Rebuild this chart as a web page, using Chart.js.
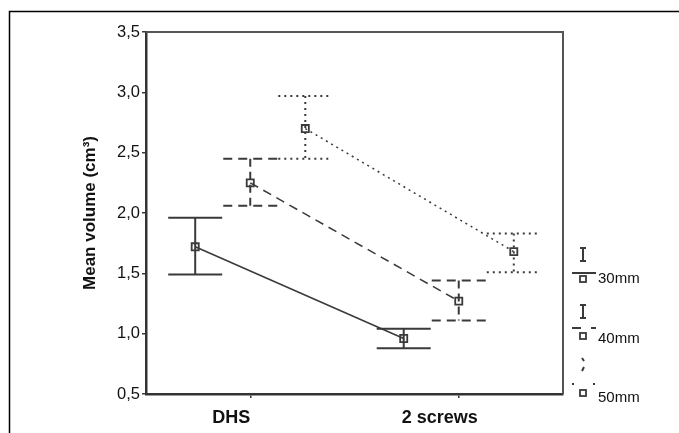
<!DOCTYPE html>
<html>
<head>
<meta charset="utf-8">
<script src="https://cdn.jsdelivr.net/npm/chart.js@4/dist/chart.umd.min.js"></script>
<style>
html,body{margin:0;padding:0;background:#fff;}
#wrap{width:679px;height:433px;position:relative;}
</style>
</head>
<body>
<div id="wrap"><canvas id="c" width="679" height="433"></canvas></div>
<script>
// ---- data ----
const categories = ['DHS', '2 screws'];
const seriesNames = ['30mm', '40mm', '50mm'];
const mean30 = [1.72, 0.96];
const lo30   = [1.49, 0.88];
const hi30   = [1.96, 1.04];
const mean40 = [2.25, 1.27];
const lo40   = [2.06, 1.11];
const hi40   = [2.45, 1.44];
const mean50 = [2.70, 1.68];
const lo50   = [2.45, 1.51];
const hi50   = [2.97, 1.83];
const yTicks = [0.5, 1.0, 1.5, 2.0, 2.5, 3.0, 3.5];
const yTitle = 'Mean volume (cm³)';

// ---- styles ----
const groupOffsets = [-0.264, 0, 0.264];
const dashes = [[], [9, 6], [2, 4]];
const ink = '#3a3a3a';
const means = [mean30, mean40, mean50];
const los = [lo30, lo40, lo50];
const his = [hi30, hi40, hi50];

const datasets = seriesNames.map((name, s) => ({
  label: name,
  data: categories.map((c, i) => ({x: i + groupOffsets[s], y: means[s][i]})),
  borderColor: ink,
  borderWidth: 1.5,
  borderDash: dashes[s],
  pointStyle: 'rect',
  pointRadius: 5,
  pointBorderWidth: 1.8,
  pointBorderColor: ink,
  pointBackgroundColor: 'rgba(255,255,255,0)',
  tension: 0,
  fill: false
}));

const errorBars = {
  id: 'errorBars',
  beforeDatasetsDraw(chart) {
    const {ctx, scales: {x, y}} = chart;
    ctx.save();
    ctx.strokeStyle = ink;
    seriesNames.forEach((name, s) => {
      categories.forEach((c, i) => {
        const px = x.getPixelForValue(i + groupOffsets[s]);
        const pLo = y.getPixelForValue(los[s][i]);
        const pHi = y.getPixelForValue(his[s][i]);
        const hw = 27;
        ctx.setLineDash(dashes[s]);
        ctx.lineWidth = 2;
        ctx.beginPath();
        ctx.moveTo(px - hw, pHi); ctx.lineTo(px + hw, pHi);
        ctx.moveTo(px - hw, pLo); ctx.lineTo(px + hw, pLo);
        ctx.stroke();
        ctx.beginPath();
        ctx.setLineDash(s === 1 ? [8, 5] : dashes[s]);
        ctx.moveTo(px, pHi); ctx.lineTo(px, pLo);
        ctx.stroke();
      });
    });
    ctx.restore();
  }
};

const frame = {
  id: 'frame',
  afterDraw(chart) {
    const {ctx, chartArea: a} = chart;
    ctx.save();
    // outer border
    ctx.strokeStyle = '#000';
    ctx.lineWidth = 1.5;
    ctx.beginPath();
    ctx.moveTo(9.5, 440); ctx.lineTo(9.5, 11.5); ctx.lineTo(679, 11.5);
    ctx.stroke();
    // plot box top/right
    ctx.strokeStyle = '#555';
    ctx.lineWidth = 2;
    ctx.beginPath();
    ctx.moveTo(a.left, a.top); ctx.lineTo(a.right, a.top); ctx.lineTo(a.right, a.bottom);
    ctx.stroke();
    // legend
    const lx = 583;
    const baseY = [279, 336, 393];
    const textDy = [4, 7, 9];
    seriesNames.forEach((name, s) => {
      const cy = baseY[s];
      ctx.strokeStyle = ink;
      ctx.lineWidth = 2;
      ctx.setLineDash([]);
      // error-bar glyph
      ctx.beginPath();
      if (s === 2) {
        ctx.moveTo(lx - 1, cy - 35); ctx.lineTo(lx + 1, cy - 32);
        ctx.moveTo(lx + 1, cy - 26); ctx.lineTo(lx - 1, cy - 22);
      } else {
        ctx.moveTo(lx - 3, cy - 31); ctx.lineTo(lx + 3, cy - 31);
        ctx.moveTo(lx, cy - 31); ctx.lineTo(lx, cy - 18);
        ctx.moveTo(lx - 3, cy - 18); ctx.lineTo(lx + 3, cy - 18);
      }
      ctx.stroke();
      // line sample
      ctx.beginPath();
      if (s === 0) {
        ctx.moveTo(572, cy - 6); ctx.lineTo(596, cy - 6);
      } else if (s === 1) {
        ctx.moveTo(572, cy - 8); ctx.lineTo(581, cy - 8);
        ctx.moveTo(591, cy - 8); ctx.lineTo(596, cy - 8);
      } else {
        ctx.moveTo(572, cy - 9); ctx.lineTo(574, cy - 9);
        ctx.moveTo(593, cy - 9); ctx.lineTo(595, cy - 9);
      }
      ctx.stroke();
      // square
      ctx.lineWidth = 1.8;
      ctx.strokeRect(lx - 3, cy - 3, 6, 6);
      // label
      ctx.fillStyle = '#111';
      ctx.font = '15px "Liberation Sans", Arial, sans-serif';
      ctx.textAlign = 'left';
      ctx.textBaseline = 'alphabetic';
      ctx.fillText(name, 598, cy + textDy[s]);
    });
    ctx.restore();
  }
};

new Chart(document.getElementById('c'), {
  type: 'line',
  data: {datasets},
  options: {
    responsive: false,
    animation: false,
    events: [],
    layout: {padding: {left: 80, top: 32, right: 116, bottom: 0}},
    plugins: {legend: {display: false}, tooltip: {enabled: false}},
    scales: {
      x: {
        type: 'linear',
        min: -0.5, max: 1.5,
        afterBuildTicks(scale) { scale.ticks = categories.map((c, i) => ({value: i})); },
        afterFit(scale) { scale.height = 39; },
        ticks: {
          callback: (v) => categories[Math.round(v)],
          font: {family: '"Liberation Sans", Arial, sans-serif', size: 18, weight: 'bold'},
          color: '#111',
          padding: 9,
          labelOffset: -19,
          maxRotation: 0,
          autoSkip: false
        },
        grid: {drawOnChartArea: false, drawTicks: true, tickLength: 4, color: ink, lineWidth: 1.5},
        border: {color: '#333', width: 2.5}
      },
      y: {
        type: 'linear',
        min: 0.5, max: 3.5,
        afterBuildTicks(scale) { scale.ticks = yTicks.map(v => ({value: v})); },
        afterFit(scale) { scale.width = 66; },
        ticks: {
          callback: (v) => v.toFixed(1).replace('.', ','),
          font: {family: '"Liberation Sans", Arial, sans-serif', size: 16.5},
          color: '#111',
          padding: 2
        },
        title: {
          display: true,
          text: yTitle,
          font: {family: '"Liberation Sans", Arial, sans-serif', size: 17, weight: 'bold'},
          color: '#111',
          padding: {top: 0, bottom: 0}
        },
        grid: {drawOnChartArea: false, drawTicks: true, tickLength: 4, color: ink, lineWidth: 1.5},
        border: {color: '#333', width: 2.5}
      }
    }
  },
  plugins: [errorBars, frame]
});
</script>
</body>
</html>
